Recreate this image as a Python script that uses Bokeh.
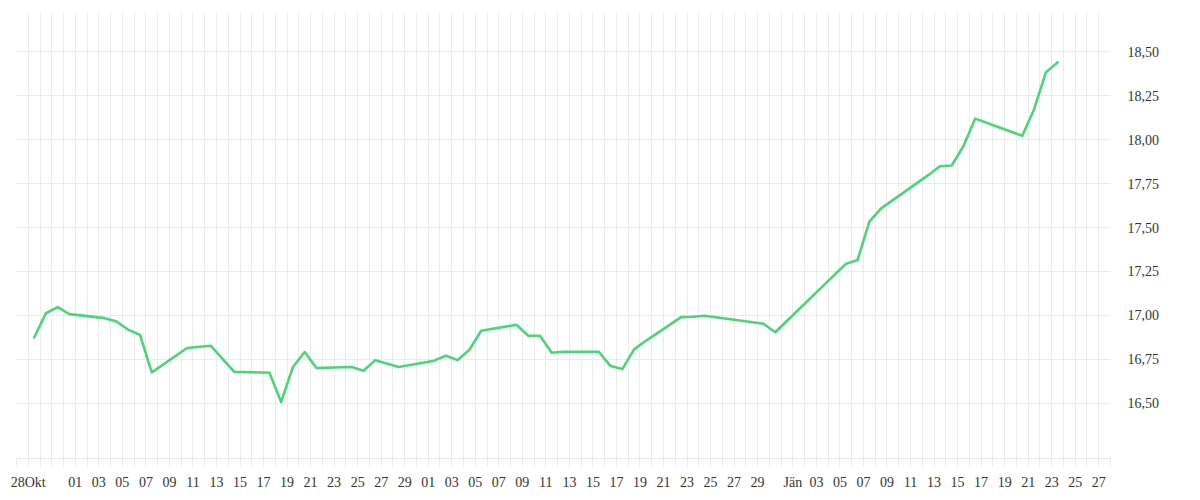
import pandas as pd
from bokeh.plotting import figure
from bokeh.models import FixedTicker, CustomJSTickFormatter, Range1d, ColumnDataSource
from bokeh.embed import file_html
from bokeh.resources import INLINE

# ---- data ----
dates = [
    "2025-10-28", "2025-10-29", "2025-10-30", "2025-10-31",
    "2025-11-03", "2025-11-04", "2025-11-05", "2025-11-06", "2025-11-07",
    "2025-11-10", "2025-11-12", "2025-11-14",
    "2025-11-17", "2025-11-18", "2025-11-19", "2025-11-20", "2025-11-21",
    "2025-11-24", "2025-11-25", "2025-11-26", "2025-11-28",
    "2025-12-01", "2025-12-02", "2025-12-03", "2025-12-04", "2025-12-05",
    "2025-12-08", "2025-12-09", "2025-12-10", "2025-12-11", "2025-12-12",
    "2025-12-15", "2025-12-16", "2025-12-17", "2025-12-18", "2025-12-19",
    "2025-12-22", "2025-12-23", "2025-12-24",
    "2025-12-29", "2025-12-30",
    "2026-01-05", "2026-01-06", "2026-01-07", "2026-01-08", "2026-01-09",
    "2026-01-12", "2026-01-13", "2026-01-14", "2026-01-15", "2026-01-16",
    "2026-01-20", "2026-01-21", "2026-01-22", "2026-01-23",
]
values = [
    16.874, 17.012, 17.047, 17.007,
    16.984, 16.965, 16.918, 16.889, 16.675,
    16.814, 16.827, 16.679,
    16.673, 16.507, 16.706, 16.791, 16.700,
    16.706, 16.685, 16.745, 16.706,
    16.742, 16.770, 16.745, 16.804, 16.912,
    16.946, 16.884, 16.884, 16.787, 16.793,
    16.793, 16.711, 16.694, 16.806, 16.855,
    16.990, 16.992, 16.998,
    16.952, 16.904,
    17.293, 17.315, 17.533, 17.609, 17.656,
    17.798, 17.849, 17.853, 17.963, 18.120,
    18.022, 18.172, 18.382, 18.440,
]

y_ticks = [16.5, 16.75, 17.0, 17.25, 17.5, 17.75, 18.0, 18.25, 18.5]

x_label_dates = [
    "2025-10-28",
    "2025-11-01", "2025-11-03", "2025-11-05", "2025-11-07", "2025-11-09",
    "2025-11-11", "2025-11-13", "2025-11-15", "2025-11-17", "2025-11-19",
    "2025-11-21", "2025-11-23", "2025-11-25", "2025-11-27", "2025-11-29",
    "2025-12-01", "2025-12-03", "2025-12-05", "2025-12-07", "2025-12-09",
    "2025-12-11", "2025-12-13", "2025-12-15", "2025-12-17", "2025-12-19",
    "2025-12-21", "2025-12-23", "2025-12-25", "2025-12-27", "2025-12-29",
    "2026-01-01", "2026-01-03", "2026-01-05", "2026-01-07", "2026-01-09",
    "2026-01-11", "2026-01-13", "2026-01-15", "2026-01-17", "2026-01-19",
    "2026-01-21", "2026-01-23", "2026-01-25", "2026-01-27",
]
x_label_texts = [
    "28Okt",
    "01", "03", "05", "07", "09", "11", "13", "15", "17", "19",
    "21", "23", "25", "27", "29",
    "01", "03", "05", "07", "09", "11", "13", "15", "17", "19",
    "21", "23", "25", "27", "29",
    "Jän", "03", "05", "07", "09", "11", "13", "15", "17", "19",
    "21", "23", "25", "27",
]

x_start = "2025-10-27"
x_end = "2026-01-28"


def ms(d):
    return int(pd.Timestamp(d).value // 10**6)


x = [pd.Timestamp(d) + pd.Timedelta(hours=12) for d in dates]
src = ColumnDataSource(dict(x=x, y=values))

p = figure(
    width=1184, height=492,
    x_axis_type="datetime", y_axis_location="right",
    x_range=Range1d(pd.Timestamp(x_start), pd.Timestamp(x_end)),
    y_range=Range1d(16.185, 18.724),
    output_backend="svg", toolbar_location=None,
    min_border_left=16, min_border_top=12, min_border_right=74, min_border_bottom=33,
)
p.outline_line_color = None
p.background_fill_color = "white"
p.border_fill_color = "white"

p.line("x", "y", source=src, line_color="#4cd47a", line_width=2.6,
       line_join="round", line_cap="round")

day_ticks = [ms(d) for d in pd.date_range(x_start, x_end, freq="D")]
overrides = {t: "" for t in day_ticks}
for d, t in zip(x_label_dates, x_label_texts):
    overrides[ms(d)] = t

font = "Liberation Serif"
xa = p.xaxis[0]
xa.ticker = FixedTicker(ticks=day_ticks, minor_ticks=[])
xa.major_label_overrides = overrides
xa.axis_line_color = "#e6e6e6"
xa.major_tick_line_color = "#ebebeb"
xa.major_tick_out = 8
xa.major_tick_in = 0
xa.minor_tick_line_color = None
xa.major_label_standoff = 8
xa.major_label_text_font = font
xa.major_label_text_font_size = "14px"
xa.major_label_text_color = "#333333"

ya = p.yaxis[0]
ya.ticker = FixedTicker(ticks=y_ticks, minor_ticks=[])
ya.formatter = CustomJSTickFormatter(code="return tick.toFixed(2).replace('.', ',');")
ya.axis_line_color = None
ya.major_tick_line_color = None
ya.minor_tick_line_color = None
ya.major_tick_out = 0
ya.major_tick_in = 0
ya.major_label_standoff = 17
ya.major_label_text_font = font
ya.major_label_text_font_size = "14px"
ya.major_label_text_color = "#333333"

p.xgrid.grid_line_color = "#ebebeb"
p.ygrid.grid_line_color = "#ebebeb"

open("out.html", "w").write(file_html(p, INLINE))
